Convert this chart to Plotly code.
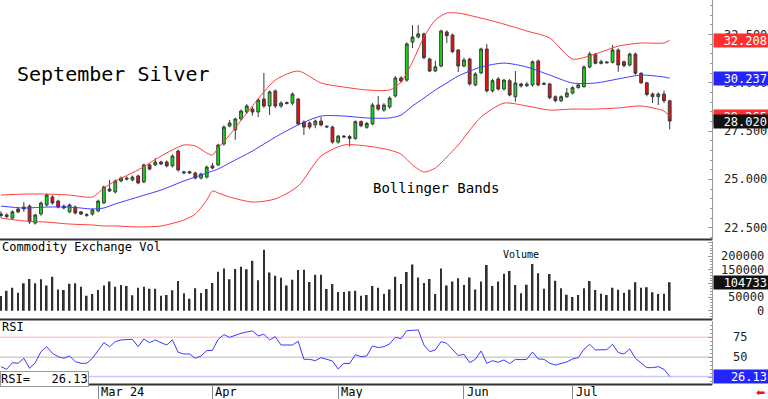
import plotly.graph_objects as go
import pandas as pd

# ---------------- data ----------------
holidays = ["2024-02-19", "2024-03-29", "2024-05-27", "2024-06-19", "2024-07-04"]
dates = [d.strftime("%Y-%m-%d") for d in
         pd.bdate_range("2024-02-06", "2024-07-25", freq="C", holidays=holidays)]

opens = [23.13, 23.16, 23.00, 23.47, 23.57, 23.62, 22.74, 23.21, 23.68, 24.09,
         23.88, 23.62, 23.32, 23.57, 23.32, 23.14, 23.21, 23.37, 23.78, 24.50,
         24.35, 24.92, 25.07, 24.97, 25.18, 24.87, 25.75, 25.75, 25.90, 25.90,
         25.70, 26.47, 25.33, 25.33, 25.33, 25.07, 25.12, 25.70, 25.75, 26.83,
         27.76, 27.56, 28.13, 28.49, 28.64, 28.49, 29.16, 28.80, 29.58, 28.80,
         28.93, 28.95, 29.16, 27.97, 27.92, 27.82, 28.02, 27.75, 27.71, 26.93,
         27.24, 27.22, 27.12, 27.99, 27.70, 27.87, 28.85, 28.59, 28.75, 29.32,
         30.25, 30.14, 32.11, 32.37, 32.53, 31.23, 30.61, 30.87, 32.63, 32.47,
         31.70, 30.87, 31.23, 29.89, 30.51, 31.75, 29.58, 30.20, 29.68, 30.11,
         29.28, 29.94, 29.85, 29.89, 31.13, 29.92, 29.94, 29.28, 29.07, 29.28,
         29.47, 29.75, 29.80, 30.82, 31.48, 31.01, 31.08, 31.06, 31.70, 31.09,
         30.92, 31.49, 30.49, 30.00, 29.42, 29.28, 29.42, 29.07]
highs = [23.35, 23.25, 23.40, 23.55, 23.83, 23.70, 23.22, 23.85, 24.27, 24.18,
         23.95, 23.70, 23.75, 23.65, 23.36, 23.26, 23.50, 23.95, 24.68, 24.97,
         25.00, 25.15, 25.17, 25.20, 25.25, 25.82, 25.82, 26.10, 25.97, 25.98,
         26.30, 26.55, 25.45, 25.45, 25.40, 25.35, 25.72, 25.85, 26.85, 27.80,
         28.07, 28.20, 28.62, 28.90, 28.75, 29.21, 30.51, 29.60, 29.65, 29.05,
         29.03, 29.50, 29.22, 28.05, 28.00, 28.10, 28.23, 27.80, 27.78, 27.30,
         27.30, 27.30, 28.05, 28.05, 27.98, 28.95, 29.32, 28.95, 29.30, 30.35,
         30.35, 32.10, 32.99, 32.99, 32.60, 31.30, 31.14, 32.75, 32.72, 32.55,
         31.75, 31.30, 31.30, 30.55, 31.82, 32.01, 30.20, 30.30, 30.20, 30.20,
         30.61, 30.00, 30.05, 31.15, 31.20, 30.05, 30.00, 29.35, 29.35, 29.73,
         29.82, 29.95, 30.90, 31.60, 31.55, 31.20, 31.12, 31.96, 31.78, 31.15,
         31.56, 31.56, 30.55, 30.05, 29.50, 29.50, 29.60, 29.12]
lows = [23.02, 22.98, 22.92, 23.25, 23.32, 22.70, 22.66, 23.12, 23.60, 23.70,
        23.50, 23.45, 23.25, 23.18, 23.15, 23.06, 23.12, 23.30, 23.72, 24.35,
        24.28, 24.85, 24.95, 24.90, 24.75, 24.80, 25.47, 25.70, 25.74, 25.62,
        25.62, 25.40, 25.28, 25.28, 25.00, 25.00, 25.05, 25.52, 25.70, 26.75,
        27.70, 27.05, 28.05, 28.40, 28.30, 28.23, 28.70, 28.33, 28.70, 28.70,
        28.88, 28.85, 27.80, 27.30, 27.60, 27.65, 27.75, 27.66, 26.85, 26.85,
        27.15, 26.70, 27.05, 27.70, 27.62, 27.80, 28.55, 28.50, 28.65, 29.25,
        30.00, 30.05, 31.80, 32.30, 31.22, 30.55, 30.55, 30.80, 32.06, 31.55,
        30.56, 30.80, 29.85, 29.82, 30.45, 29.50, 29.50, 29.60, 29.60, 29.30,
        29.02, 29.75, 29.78, 29.80, 29.82, 29.88, 29.15, 29.00, 29.00, 29.22,
        29.40, 29.70, 29.75, 30.75, 30.95, 30.95, 31.00, 31.00, 30.57, 30.80,
        30.85, 30.42, 29.95, 29.30, 28.95, 28.85, 28.95, 27.59]
closes = [23.21, 23.08, 23.32, 23.32, 23.47, 22.80, 23.16, 23.78, 24.19, 23.78,
          23.57, 23.52, 23.68, 23.26, 23.21, 23.17, 23.42, 23.88, 24.61, 24.40,
          24.92, 25.07, 25.02, 25.12, 24.82, 25.75, 25.54, 25.90, 25.80, 25.70,
          26.21, 25.49, 25.38, 25.40, 25.07, 25.28, 25.64, 25.59, 26.78, 27.71,
          27.92, 28.13, 28.54, 28.80, 28.49, 29.11, 28.80, 29.53, 28.80, 28.95,
          28.97, 29.42, 27.87, 27.71, 27.71, 28.02, 27.82, 27.72, 26.93, 27.24,
          27.20, 27.12, 27.99, 27.78, 27.90, 28.85, 28.64, 28.85, 29.21, 30.25,
          30.09, 32.01, 32.37, 32.53, 31.30, 30.61, 30.83, 32.68, 32.44, 31.61,
          30.87, 31.18, 29.94, 30.46, 31.75, 29.58, 30.11, 29.68, 30.14, 29.37,
          29.99, 29.84, 29.93, 31.09, 29.89, 29.96, 29.23, 29.07, 29.28, 29.47,
          29.75, 29.89, 30.82, 31.49, 31.01, 31.09, 31.04, 31.70, 30.92, 30.89,
          31.49, 30.49, 30.00, 29.40, 29.28, 29.42, 29.07, 28.02]

volumes = [53900, 73500, 84600, 66200, 100500, 116400, 100500, 115200, 93100, 125000,
           78400, 76000, 99300, 100500, 88200, 55100, 61300, 76000, 93100, 107800,
           88200, 94400, 90700, 56400, 84600, 88200, 80900, 80900, 55100, 57600,
           74800, 109100, 63700, 44100, 82100, 65000, 79700, 101700, 143400, 155600,
           115200, 153200, 161800, 152000, 183800, 111500, 224300, 140900, 128700, 121300,
           93100, 114000, 149500, 150700, 105400, 132400, 132400, 79700, 98000, 68600,
           68600, 71100, 73500, 55100, 57600, 90700, 84600, 61300, 78400, 125000,
           98000, 142200, 170300, 122500, 101700, 116400, 61300, 155600, 93100, 107800,
           118900, 94400, 122500, 78400, 107800, 167900, 90700, 107800, 136000, 145800,
           94400, 63700, 95600, 171600, 137300, 80900, 134800, 110300, 82100, 58800,
           50200, 57600, 82100, 109100, 76000, 62500, 57600, 84600, 77200, 66200,
           77200, 104200, 84600, 85800, 67400, 61300, 62500, 104733]

rsi = [38.3, 35.0, 43.3, 42.5, 48.8, 36.3, 43.3, 57.1, 63.3, 55.0,
       50.8, 48.8, 51.7, 44.6, 42.5, 42.5, 48.8, 59.2, 68.3, 63.3,
       69.6, 71.7, 71.7, 72.5, 63.3, 72.9, 68.3, 71.7, 68.3, 65.4,
       71.7, 56.3, 54.2, 54.2, 48.8, 51.7, 58.3, 58.8, 72.5, 78.3,
       75.0, 77.9, 80.0, 81.7, 82.9, 76.7, 78.8, 71.7, 75.8, 65.4,
       65.0, 65.4, 70.0, 47.5, 47.5, 45.8, 49.6, 47.5, 45.4, 35.4,
       42.5, 42.1, 53.3, 50.8, 51.7, 64.2, 62.1, 63.3, 66.7, 75.0,
       73.3, 83.3, 84.2, 84.2, 65.4, 57.1, 59.2, 69.6, 67.5, 60.0,
       52.1, 53.8, 43.3, 47.5, 57.9, 42.5, 45.8, 43.8, 46.7, 42.1,
       47.5, 47.1, 47.5, 56.7, 47.9, 47.5, 42.5, 40.4, 42.5, 44.2,
       47.9, 49.6, 60.0, 66.3, 59.2, 59.6, 59.6, 66.3, 55.8, 54.2,
       60.4, 48.8, 42.5, 37.1, 37.1, 38.3, 35.0, 26.13]

# Bollinger band values at these bar positions
band_idx = [0, 4, 8, 12, 16, 18, 20, 24, 28, 32, 34, 36, 37, 38, 40, 44, 48, 52, 56,
            60, 64, 68, 70, 72, 74, 76, 78, 80, 84, 88, 92, 96, 100, 104, 108, 112, 116, 117]
band_upper = [24.19, 24.24, 24.24, 24.19, 24.09, 24.55, 24.92, 25.49, 26.21, 26.78,
              26.73, 26.37, 26.26, 26.63, 27.30, 28.80, 30.14, 30.61, 29.99, 29.78,
              29.63, 29.63, 30.04, 31.08, 32.37, 33.25, 33.61, 33.61, 33.35, 33.04,
              32.68, 32.32, 31.23, 31.49, 31.90, 32.06, 32.06, 32.208]
band_mid = [23.62, 23.52, 23.57, 23.57, 23.47, 23.52, 23.73, 24.09, 24.45, 24.92,
            25.12, 25.33, 25.43, 25.54, 25.85, 26.47, 27.19, 27.82, 28.28, 28.28,
            28.18, 28.18, 28.33, 28.80, 29.21, 29.63, 29.99, 30.35, 30.82, 31.02,
            30.82, 30.40, 29.99, 29.99, 30.20, 30.40, 30.30, 30.237]
band_lower = [23.00, 22.85, 22.79, 22.69, 22.64, 22.59, 22.59, 22.54, 22.59, 22.90,
              23.21, 23.93, 24.40, 24.30, 24.09, 23.83, 23.99, 24.66, 26.21, 26.78,
              26.73, 26.52, 26.31, 25.75, 25.38, 25.59, 26.16, 26.78, 28.23, 28.95,
              28.80, 28.59, 28.64, 28.64, 28.70, 28.80, 28.54, 28.265]

month_idx = [17, 37, 59, 81, 100]
month_labels = ["Mar 24", "Apr", "May", "Jun", "Jul"]
price_ticks = [22.5, 25.0, 27.5, 30.0, 32.5]
volume_ticks = [0, 50000, 100000, 150000, 200000]
rsi_ticks = [25, 50, 75]

last_close = closes[-1]
last_upper, last_mid, last_lower = band_upper[-1], band_mid[-1], band_lower[-1]
last_volume = volumes[-1]
last_rsi = rsi[-1]

# ---------------- figure ----------------
MONO = "DejaVu Sans Mono"
band_x = [dates[i] for i in band_idx]

fig = go.Figure()
fig.add_trace(go.Candlestick(
    x=dates, open=opens, high=highs, low=lows, close=closes,
    increasing=dict(fillcolor="#10e010", line=dict(color="#3a3a3a", width=1)),
    decreasing=dict(fillcolor="#e81010", line=dict(color="#3a3a3a", width=1)),
    whiskerwidth=0, hoverinfo="skip"))
fig.add_trace(go.Scatter(x=band_x, y=band_upper, mode="lines", hoverinfo="skip",
                         line=dict(color="#ff3b3b", width=1, shape="spline", smoothing=0.7)))
fig.add_trace(go.Scatter(x=band_x, y=band_lower, mode="lines", hoverinfo="skip",
                         line=dict(color="#ff3b3b", width=1, shape="spline", smoothing=0.7)))
fig.add_trace(go.Scatter(x=band_x, y=band_mid, mode="lines", hoverinfo="skip",
                         line=dict(color="#3b3bff", width=1, shape="spline", smoothing=0.7)))
fig.add_trace(go.Bar(x=dates, y=volumes, width=0.3, yaxis="y2",
                     marker=dict(color="#303030", line=dict(width=0)), hoverinfo="skip"))
fig.add_trace(go.Scatter(x=dates, y=rsi, mode="lines", yaxis="y3", hoverinfo="skip",
                         line=dict(color="#3b3bff", width=1)))

PLOT_H = 385.0
def py(px):
    return (PLOT_H - px) / PLOT_H

axis_common = dict(side="right", showline=True, linecolor="#9a9a9a", linewidth=1,
                   ticks="inside", ticklen=4, tickcolor="#9a9a9a", showticklabels=False,
                   showgrid=False, zeroline=False, anchor="x", fixedrange=True)

fig.update_layout(
    width=768, height=399,
    margin=dict(l=0, r=56, t=0, b=14),
    paper_bgcolor="white", plot_bgcolor="white",
    showlegend=False, hovermode=False,
    xaxis=dict(type="category", categoryorder="array", categoryarray=dates,
               range=[-0.17, 124.4], anchor="y3", fixedrange=True,
               rangeslider=dict(visible=False), showgrid=False, zeroline=False,
               tickvals=[dates[i] for i in month_idx], ticktext=[""] * len(month_idx),
               ticks="outside", ticklen=14, tickcolor="#888888", tickwidth=1,
               showline=False),
    yaxis=dict(domain=[py(239.5), 1], range=[21.89, 34.286], tick0=22.5, dtick=2.5,
               minor=dict(ticks="inside", ticklen=2, dtick=0.5, tickcolor="#9a9a9a"),
               **axis_common),
    yaxis2=dict(domain=[py(319.5), py(240.5)], range=[-32350, 258090], tick0=0, dtick=50000,
                minor=dict(ticks="inside", ticklen=2, dtick=10000, tickcolor="#9a9a9a"),
                **axis_common),
    yaxis3=dict(domain=[0, py(320.5)], range=[15.4, 96], tick0=0, dtick=25,
                minor=dict(ticks="inside", ticklen=2, dtick=5, tickcolor="#9a9a9a"),
                **axis_common),
)

shapes = []
for lvl, col in [(75, "#ffcccc"), (50, "#cfcfcf"), (last_rsi, "#c8c8ff")]:
    shapes.append(dict(type="line", xref="paper", yref="y3", x0=0, x1=1, y0=lvl, y1=lvl,
                       line=dict(color=col, width=1.5), layer="below"))
for yy in [239.5, 319.5, 384.5]:
    shapes.append(dict(type="line", xref="paper", yref="paper", x0=0, x1=1,
                       y0=py(yy), y1=py(yy), line=dict(color="#333333", width=2)))
fig.update_layout(shapes=shapes)

ann = []
def text(t, x, y, size, xanchor="left", color="black", **kw):
    ann.append(dict(text=t, x=x, y=y, xref="paper", yref="paper", showarrow=False,
                    xanchor=xanchor, yanchor="middle",
                    font=dict(family=MONO, size=size, color=color), **kw))

text("September Silver", 15 / 712, py(74), 20)
text("Bollinger Bands", 436 / 712, py(188), 14, xanchor="center")
text("Commodity Exchange Vol", 0, py(247), 12)
text("Volume", 521 / 712, py(254), 10, xanchor="center")
text("RSI", 0, py(327), 12)

# right-hand scale labels
for v in price_ticks:
    ann.append(dict(text=f"{v:.3f}", x=1, y=v, xref="paper", yref="y", showarrow=False,
                    xanchor="left", yanchor="middle", xshift=10,
                    font=dict(family=MONO, size=12, color="#222222")))
for v in volume_ticks:
    ann.append(dict(text=f"{v}", x=1, y=v, xref="paper", yref="y2", showarrow=False,
                    xanchor="right", yanchor="middle", xshift=54,
                    font=dict(family=MONO, size=12, color="#222222")))
for v in rsi_ticks:
    ann.append(dict(text=f"{v}", x=1, y=v, xref="paper", yref="y3", showarrow=False,
                    xanchor="left", yanchor="middle", xshift=19,
                    font=dict(family=MONO, size=12, color="#222222")))

def tag(t, y, yref, bg):
    ann.append(dict(text=t, x=1, y=y, xref="paper", yref=yref, showarrow=False,
                    xanchor="left", yanchor="middle", xshift=1, width=52, height=11,
                    align="right", bgcolor=bg, borderpad=1,
                    font=dict(family=MONO, size=12, color="white")))

tag(f"{last_upper:.3f}", last_upper, "y", "#ff2f2f")
tag(f"{last_mid:.3f}", last_mid, "y", "#2424ff")
tag(f"{last_lower:.3f}", last_lower, "y", "#ff2f2f")
tag(f"{last_close:.3f}", last_close, "y", "#111111")
tag(f"{last_volume}", last_volume, "y2", "#111111")
tag(f"{last_rsi:.2f}", last_rsi, "y3", "#2424ff")

# RSI readout box
ann.append(dict(text=f"RSI=\u00a0\u00a0\u00a0{last_rsi:.2f}", x=0, y=py(378.5), xref="paper",
                yref="paper", showarrow=False, xanchor="left", yanchor="middle",
                bgcolor="white", bordercolor="#999999", borderwidth=1, borderpad=0,
                font=dict(family=MONO, size=12, color="black")))

# month labels
for i, lab in zip(month_idx, month_labels):
    ann.append(dict(text=lab, x=dates[i], y=py(392), xref="x", yref="paper", showarrow=False,
                    xanchor="left", yanchor="middle", xshift=1, height=12,
                    font=dict(family=MONO, size=12, color="black")))

ann.append(dict(text="\u2b05", x=1, y=py(392), xref="paper", yref="paper", showarrow=False,
                xanchor="center", yanchor="middle", xshift=48, height=12,
                font=dict(family="DejaVu Sans", size=11, color="#ee1111")))

fig.update_layout(annotations=ann)
fig.write_html("out.html", config={"displayModeBar": False},
               post_script="document.body.style.margin='0px';"
                           "document.body.style.overflow='hidden';")
